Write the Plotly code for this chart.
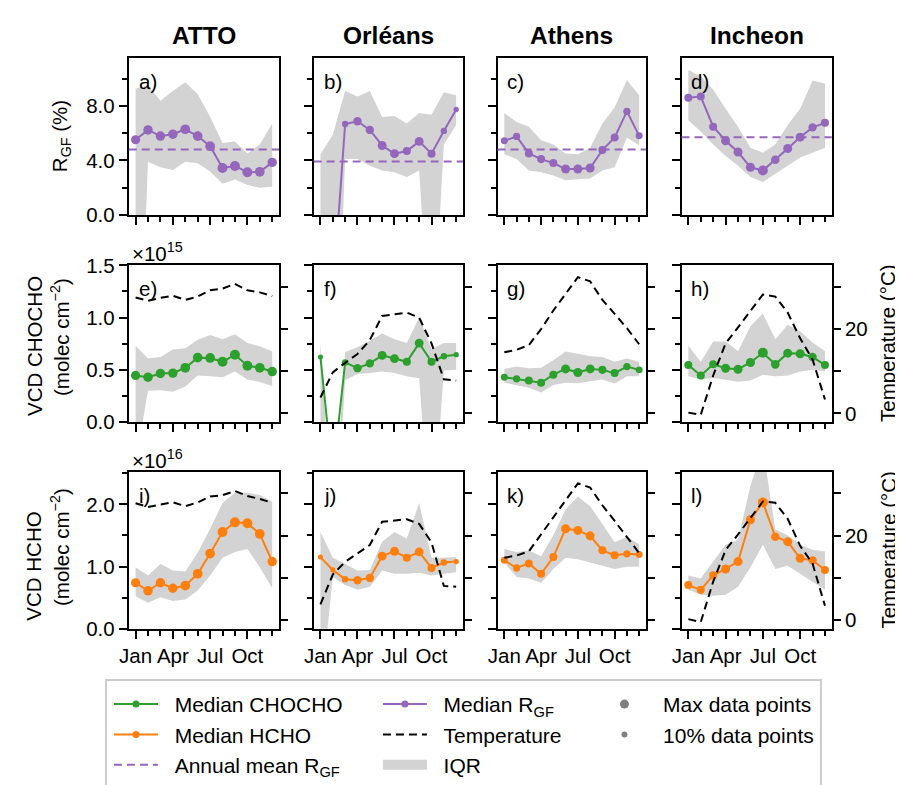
import plotly.graph_objects as go

# ---------------- data ----------------
months = [1, 2, 3, 4, 5, 6, 7, 8, 9, 10, 11, 12]
month_ticks = [1, 4, 7, 10]
month_ticktext = ["Jan", "Apr", "Jul", "Oct"]
stations = ["ATTO", "Orléans", "Athens", "Incheon"]
panel_letters = ["a)", "b)", "c)", "d)", "e)", "f)", "g)", "h)", "i)", "j)", "k)", "l)"]

# R_GF (%) : median, IQR lower (q1), IQR upper (q3), annual mean
rgf_med_atto = [5.52, 6.24, 5.79, 5.93, 6.29, 5.79, 5.05, 3.45, 3.60, 3.14, 3.17, 3.86]
rgf_q1_atto = [-20.0, 3.9, 3.5, 3.3, 3.9, 3.8, 3.2, 2.3, 2.6, 2.2, 2.0, 2.1]
rgf_q3_atto = [9.26, 9.5, 8.38, 9.1, 9.74, 8.86, 7.2, 5.29, 5.4, 4.52, 5.17, 6.71]
rgf_mean_atto = 4.81

rgf_med_orleans = [-10.0, -6.0, 6.67, 6.88, 6.24, 5.10, 4.50, 4.69, 5.40, 4.50, 6.17, 7.74]
rgf_q1_orleans = [-20.0, -20.0, 4.1, 4.1, 3.62, 3.26, 3.14, 2.79, 3.26, -11.0, 5.17, 6.6]
rgf_q3_orleans = [4.45, 5.88, 9.1, 8.7, 9.1, 7.19, 7.26, 6.71, 7.48, 7.36, 9.0, 8.79]
rgf_mean_orleans = 3.93

rgf_med_athens = [5.45, 5.76, 4.52, 4.10, 3.81, 3.38, 3.38, 3.45, 4.76, 5.69, 7.60, 5.81]
rgf_q1_athens = [4.45, 4.1, 3.26, 3.14, 2.9, 2.55, 2.62, 2.67, 3.26, 3.5, 5.69, 5.12]
rgf_q3_athens = [7.48, 6.83, 6.48, 5.48, 5.17, 4.52, 4.45, 4.93, 6.71, 7.9, 9.88, 8.79]
rgf_mean_athens = 4.81

rgf_med_incheon = [8.60, 8.69, 6.48, 5.45, 4.62, 3.50, 3.26, 4.05, 4.88, 5.71, 6.43, 6.76]
rgf_q1_incheon = [6.95, 6.12, 5.17, 4.33, 3.62, 2.79, 2.43, 3.02, 3.62, 4.21, 4.57, 4.93]
rgf_q3_incheon = [10.64, 10.17, 9.21, 7.79, 6.48, 4.93, 4.57, 5.17, 6.6, 7.79, 9.86, 9.64]
rgf_mean_incheon = 5.71

# VCD CHOCHO (x 1e15 molec cm-2)
chocho_med_atto = [0.447, 0.43, 0.466, 0.469, 0.52, 0.617, 0.614, 0.577, 0.645, 0.54, 0.52, 0.484]
chocho_q1_atto = [-0.4, 0.3, 0.305, 0.29, 0.34, 0.447, 0.44, 0.43, 0.484, 0.407, 0.383, 0.345]
chocho_q3_atto = [0.73, 0.608, 0.623, 0.694, 0.707, 0.787, 0.833, 0.793, 0.84, 0.756, 0.725, 0.676]

chocho_med_orleans = [0.623, -0.52, 0.571, 0.516, 0.562, 0.639, 0.608, 0.577, 0.756, 0.577, 0.63, 0.645]
chocho_q1_orleans = [-0.8, -1.6, 0.4, 0.46, 0.47, 0.484, 0.47, 0.44, 0.42, -1.2, 0.494, 0.5]
chocho_q3_orleans = [0.771, -1.1, 0.67, 0.716, 0.778, 0.849, 0.793, 0.756, 1.003, 0.7, 0.756, 0.756]

chocho_med_athens = [0.429, 0.414, 0.398, 0.377, 0.454, 0.509, 0.475, 0.509, 0.5, 0.469, 0.531, 0.5]
chocho_q1_athens = [0.377, 0.352, 0.33, 0.284, 0.355, 0.377, 0.372, 0.392, 0.407, 0.37, 0.438, 0.438]
chocho_q3_athens = [0.509, 0.531, 0.516, 0.52, 0.593, 0.676, 0.654, 0.63, 0.623, 0.577, 0.608, 0.577]

chocho_med_incheon = [0.546, 0.447, 0.553, 0.516, 0.506, 0.571, 0.664, 0.553, 0.66, 0.654, 0.623, 0.546]
chocho_q1_incheon = [0.438, 0.407, 0.423, 0.407, 0.386, 0.398, 0.454, 0.438, 0.447, 0.484, 0.5, 0.484]
chocho_q3_incheon = [0.731, 0.577, 0.771, 0.771, 0.679, 0.917, 1.04, 0.793, 0.932, 0.87, 0.762, 0.679]

# VCD HCHO (x 1e16 molec cm-2)
hcho_med_atto = [0.739, 0.61, 0.739, 0.651, 0.693, 0.884, 1.209, 1.555, 1.71, 1.695, 1.524, 1.08]
hcho_q1_atto = [0.522, 0.419, 0.507, 0.445, 0.47, 0.615, 0.858, 1.142, 1.235, 1.282, 0.987, 0.651]
hcho_q3_atto = [0.987, 0.858, 1.039, 0.935, 0.92, 1.22, 1.608, 2.02, 2.186, 2.186, 2.15, 2.047]

hcho_med_orleans = [1.152, 0.946, 0.795, 0.78, 0.817, 1.167, 1.245, 1.142, 1.235, 0.977, 1.065, 1.08]
hcho_q1_orleans = [-1.1, 0.832, 0.702, 0.625, 0.677, 0.935, 0.884, 0.884, 0.9, 0.858, 0.884, 0.91]
hcho_q3_orleans = [1.555, 1.142, 1.039, 0.935, 0.946, 1.4, 1.555, 1.452, 2.02, 1.142, 1.142, 1.152]

hcho_med_athens = [1.1, 0.977, 1.05, 0.884, 1.152, 1.608, 1.581, 1.493, 1.26, 1.183, 1.204, 1.194]
hcho_q1_athens = [1.065, 0.832, 0.806, 0.739, 0.961, 1.142, 1.116, 1.065, 1.013, 0.961, 0.997, 0.997]
hcho_q3_athens = [1.282, 1.235, 1.256, 1.167, 1.504, 1.918, 2.124, 1.969, 1.685, 1.39, 1.478, 1.36]

hcho_med_incheon = [0.702, 0.625, 0.858, 0.961, 1.08, 1.752, 2.031, 1.478, 1.4, 1.132, 1.1, 0.946]
hcho_q1_incheon = [0.625, 0.547, 0.532, 0.547, 0.677, 0.987, 1.349, 0.961, 1.013, 0.884, 0.755, 0.625]
hcho_q3_incheon = [0.858, 0.806, 1.08, 1.349, 1.426, 2.3, 2.9, 1.6, 1.5, 1.35, 1.27, 1.24]

# Temperature (deg C), as plotted in the CHOCHO row and the HCHO row
temp_chocho_atto = [27.5, 26.7, 27.4, 27.9, 26.9, 27.7, 29.2, 29.6, 30.7, 29.2, 28.7, 27.8]
temp_chocho_orleans = [3.8, 9.75, 12.0, 14.1, 17.4, 23.1, 23.5, 23.9, 22.7, 16.6, 8.1, 7.8]
temp_chocho_athens = [14.5, 15.1, 16.2, 20.0, 24.4, 28.4, 32.3, 31.3, 26.9, 23.6, 20.2, 16.4]
temp_chocho_incheon = [0.2, -0.3, 9.0, 16.6, 20.4, 24.3, 28.2, 27.7, 23.9, 17.8, 12.8, 3.3]

temp_hcho_atto = [27.7, 26.8, 27.4, 27.9, 27.0, 27.9, 29.3, 29.6, 30.6, 29.4, 28.7, 27.8]
temp_hcho_orleans = [3.75, 10.8, 13.8, 15.9, 17.8, 23.3, 23.6, 23.9, 22.8, 18.4, 8.1, 7.9]
temp_hcho_athens = [14.8, 15.3, 16.3, 20.3, 24.3, 28.5, 32.4, 31.4, 27.2, 23.5, 19.7, 15.9]
temp_hcho_incheon = [0.23, -0.46, 9.1, 16.6, 20.3, 24.1, 28.1, 27.8, 24.0, 17.6, 13.4, 3.4]

# number of data points per month, as fraction of the maximum
npts_atto = [0.85, 0.9, 0.9, 0.9, 0.95, 0.95, 0.95, 1.0, 1.0, 1.0, 0.95, 0.9]
npts_orleans = [0.1, 0.1, 0.35, 0.7, 0.7, 0.8, 0.8, 0.65, 0.8, 0.65, 0.35, 0.15]
npts_athens = [0.45, 0.5, 0.64, 0.64, 0.64, 0.82, 0.82, 0.82, 0.64, 0.64, 0.5, 0.45]
npts_incheon = [0.64, 0.64, 0.64, 0.82, 0.82, 0.82, 1.0, 0.75, 0.82, 0.82, 0.7, 0.64]

# ---------------- assemble ----------------
rgf_med = [rgf_med_atto, rgf_med_orleans, rgf_med_athens, rgf_med_incheon]
rgf_q1 = [rgf_q1_atto, rgf_q1_orleans, rgf_q1_athens, rgf_q1_incheon]
rgf_q3 = [rgf_q3_atto, rgf_q3_orleans, rgf_q3_athens, rgf_q3_incheon]
rgf_mean = [rgf_mean_atto, rgf_mean_orleans, rgf_mean_athens, rgf_mean_incheon]
ch_med = [chocho_med_atto, chocho_med_orleans, chocho_med_athens, chocho_med_incheon]
ch_q1 = [chocho_q1_atto, chocho_q1_orleans, chocho_q1_athens, chocho_q1_incheon]
ch_q3 = [chocho_q3_atto, chocho_q3_orleans, chocho_q3_athens, chocho_q3_incheon]
hc_med = [hcho_med_atto, hcho_med_orleans, hcho_med_athens, hcho_med_incheon]
hc_q1 = [hcho_q1_atto, hcho_q1_orleans, hcho_q1_athens, hcho_q1_incheon]
hc_q3 = [hcho_q3_atto, hcho_q3_orleans, hcho_q3_athens, hcho_q3_incheon]
t_ch = [temp_chocho_atto, temp_chocho_orleans, temp_chocho_athens, temp_chocho_incheon]
t_hc = [temp_hcho_atto, temp_hcho_orleans, temp_hcho_athens, temp_hcho_incheon]
npts = [npts_atto, npts_orleans, npts_athens, npts_incheon]

PURPLE = "#9467bd"
GREEN = "#2ca02c"
ORANGE = "#ff7f0e"
IQR_GREY = "#d3d3d3"
FONT = "Liberation Sans, Arial, Helvetica, sans-serif"
TICKFONT = 20.5
TEXTFONT = 20.5

# the page body has an 8 px margin: the figure is placed at (8, 8) in the window
OFF = 8
W, H = 903 - OFF, 785 - OFF
col_px = [(120, 272), (307, 458), (493, 643), (679, 831)]
row_px = [(47.5, 209.5), (261.5, 423.5), (475, 637)]
TEMP_RANGE = [-2.05, 35.1]
row_yaxis = [
    dict(range=[0, 11.5], tickvals=[0, 4, 8], ticktext=["0.0", "4.0", "8.0"], minor=[2, 6, 10]),
    dict(range=[0, 1.5], tickvals=[0, 0.5, 1.0, 1.5], ticktext=["0.0", "0.5", "1.0", "1.5"], minor=[0.25, 0.75, 1.25]),
    dict(range=[0, 2.52], tickvals=[0, 1, 2], ticktext=["0.0", "1.0", "2.0"], minor=[0.5, 1.5, 2.5]),
]


def px2x(px):
    return (px - OFF) / W


def px2y(py):
    return 1 - (py - OFF) / H


def msize(frac_list):
    return [4.5 + 5.5 * f for f in frac_list]


fig = go.Figure()
layout = dict(
    width=W, height=H, margin=dict(l=0, r=0, t=0, b=0),
    paper_bgcolor="white", plot_bgcolor="white",
    font=dict(family=FONT, size=TICKFONT, color="black"),
    showlegend=True,
)
shapes = []
annotations = []

temp_axis_counter = 13
for r in range(3):
    for c in range(4):
        k = r * 4 + c + 1
        xs = "" if k == 1 else str(k)
        x0, x1 = col_px[c]
        y0, y1 = row_px[r]
        layout["xaxis" + xs] = dict(
            domain=[px2x(x0), px2x(x1)], anchor="y" + xs, range=[0.45, 12.55],
            tickmode="array", tickvals=month_ticks, ticktext=month_ticktext,
            showticklabels=(r == 2), ticks="outside", ticklen=8, tickwidth=1.5, tickcolor="black",
            minor=dict(tickmode="array", tickvals=[m for m in months if m not in month_ticks],
                       ticks="outside", ticklen=5, tickwidth=1.5, tickcolor="black"),
            showline=True, linewidth=2, linecolor="black", mirror=True,
            showgrid=False, zeroline=False, tickfont=dict(size=TICKFONT),
        )
        ya = row_yaxis[r]
        layout["yaxis" + xs] = dict(
            domain=[px2y(y1), px2y(y0)], anchor="x" + xs, range=ya["range"],
            tickmode="array", tickvals=ya["tickvals"], ticktext=ya["ticktext"],
            showticklabels=(c == 0), ticks="outside", ticklen=8, tickwidth=1.5, tickcolor="black",
            minor=dict(tickmode="array", tickvals=ya["minor"], ticks="outside", ticklen=5,
                       tickwidth=1.5, tickcolor="black"),
            showline=True, linewidth=2, linecolor="black", mirror=True,
            showgrid=False, zeroline=False, tickfont=dict(size=TICKFONT),
        )
        xa_name = "x" + xs
        ya_name = "y" + xs

        if r == 0:
            lo, hi, med, col = rgf_q1[c], rgf_q3[c], rgf_med[c], PURPLE
        elif r == 1:
            lo, hi, med, col = ch_q1[c], ch_q3[c], ch_med[c], GREEN
        else:
            lo, hi, med, col = hc_q1[c], hc_q3[c], hc_med[c], ORANGE

        # IQR band
        fig.add_trace(go.Scatter(x=months, y=lo, mode="lines", line=dict(width=0),
                                 xaxis=xa_name, yaxis=ya_name, showlegend=False, hoverinfo="skip"))
        fig.add_trace(go.Scatter(x=months, y=hi, mode="lines", line=dict(width=0), fill="tonexty",
                                 fillcolor=IQR_GREY, xaxis=xa_name, yaxis=ya_name,
                                 showlegend=False, hoverinfo="skip"))
        # median
        fig.add_trace(go.Scatter(x=months, y=med, mode="lines+markers",
                                 line=dict(color=col, width=2),
                                 marker=dict(color=col, size=msize(npts[c]), opacity=1,
                                             line=dict(width=0)),
                                 xaxis=xa_name, yaxis=ya_name, showlegend=False))
        if r == 0:
            shapes.append(dict(type="line", xref=xa_name + " domain", x0=0, x1=1,
                               yref=ya_name, y0=rgf_mean[c], y1=rgf_mean[c],
                               line=dict(color=PURPLE, width=2, dash="8px,5px")))
        else:
            tn = "yaxis" + str(temp_axis_counter)
            layout[tn] = dict(
                overlaying=ya_name, anchor=xa_name, side="right", range=TEMP_RANGE,
                tickmode="array", tickvals=[0, 20], ticktext=["0", "20"],
                showticklabels=(c == 3), ticks="outside", ticklen=8, tickwidth=1.5, tickcolor="black",
                minor=dict(tickmode="array", tickvals=[10, 30], ticks="outside", ticklen=8,
                           tickwidth=1.5, tickcolor="black"),
                showline=False, showgrid=False, zeroline=False, tickfont=dict(size=TICKFONT),
            )
            temps = t_ch[c] if r == 1 else t_hc[c]
            fig.add_trace(go.Scatter(x=months, y=temps, mode="lines",
                                     line=dict(color="black", width=2, dash="8px,5px"),
                                     xaxis=xa_name, yaxis="y" + str(temp_axis_counter),
                                     showlegend=False))
            temp_axis_counter += 1

        # panel letter
        annotations.append(dict(text=panel_letters[k - 1], xref="paper", yref="paper",
                                x=px2x(x0 + 8), y=px2y(y0 + 10), xanchor="left", yanchor="top",
                                showarrow=False, font=dict(size=TEXTFONT)))

# column titles
for c in range(4):
    x0, x1 = col_px[c]
    annotations.append(dict(text="<b>%s</b>" % stations[c], xref="paper", yref="paper",
                            x=px2x((x0 + x1) / 2), y=px2y(24), xanchor="center", yanchor="middle",
                            showarrow=False, font=dict(size=24.5)))


# axis titles
def vtext(txt, xc, yc, size=TEXTFONT):
    annotations.append(dict(text=txt, xref="paper", yref="paper", x=px2x(xc), y=px2y(yc),
                            xanchor="center", yanchor="middle", textangle=-90,
                            showarrow=False, font=dict(size=size)))


vtext("R<sub>GF</sub> (%)", 51, 128.5)
vtext("VCD CHOCHO", 24, 345)
vtext("(molec cm<sup>−2</sup>)", 51, 336)
vtext("VCD HCHO", 24, 572)
vtext("(molec cm<sup>−2</sup>)", 51, 553)
vtext("Temperature (°C)", 888, 342.5)
vtext("Temperature (°C)", 888, 556)

annotations.append(dict(text="×10<sup>15</sup>", xref="paper", yref="paper", x=px2x(121),
                        y=px2y(248), xanchor="left", yanchor="middle", showarrow=False,
                        font=dict(size=TEXTFONT)))
annotations.append(dict(text="×10<sup>16</sup>", xref="paper", yref="paper", x=px2x(121),
                        y=px2y(462), xanchor="left", yanchor="middle", showarrow=False,
                        font=dict(size=TEXTFONT)))


# ---------------- legend ----------------
PAD = "&nbsp;&nbsp;"


def leg(name, legend, group, **kw):
    fig.add_trace(go.Scatter(x=[None], y=[None], name=PAD + name, legend=legend, legendgroup=group,
                             xaxis="x", yaxis="y", hoverinfo="skip", **kw))


leg("Median CHOCHO", "legend", "g1", mode="lines+markers", line=dict(color=GREEN, width=2),
    marker=dict(color=GREEN, size=7, line=dict(width=0)))
leg("Median HCHO", "legend", "g2", mode="lines+markers", line=dict(color=ORANGE, width=2),
    marker=dict(color=ORANGE, size=7, line=dict(width=0)))
leg("Annual mean R<sub>GF</sub>", "legend", "g3", mode="lines",
    line=dict(color=PURPLE, width=2, dash="8px,5px"))
leg("Median R<sub>GF</sub>", "legend2", "g4", mode="lines+markers", line=dict(color=PURPLE, width=2),
    marker=dict(color=PURPLE, size=7, line=dict(width=0)))
leg("Temperature", "legend2", "g5", mode="lines", line=dict(color="black", width=2, dash="8px,5px"))
leg("IQR", "legend2", "g6", mode="lines", line=dict(color=IQR_GREY, width=14))
leg("Max data points", "legend3", "g7", mode="markers",
    marker=dict(color="#808080", size=9, line=dict(width=0)))
leg("10% data points", "legend3", "g8", mode="markers",
    marker=dict(color="#808080", size=6, line=dict(width=0)))

legend_common = dict(orientation="v", xanchor="left", yanchor="top", bgcolor="rgba(0,0,0,0)",
                     borderwidth=0, font=dict(size=21, family=FONT), itemwidth=44,
                     tracegroupgap=0, traceorder="grouped")
layout["legend"] = dict(legend_common, x=px2x(100), y=px2y(694))
layout["legend2"] = dict(legend_common, x=px2x(372), y=px2y(694))
layout["legend3"] = dict(legend_common, x=px2x(594), y=px2y(694))

shapes.append(dict(type="rect", xref="paper", yref="paper", x0=px2x(97), x1=px2x(820),
                   y0=px2y(800), y1=px2y(690), line=dict(color="#cccccc", width=2),
                   fillcolor="rgba(0,0,0,0)", layer="below"))

layout["shapes"] = shapes
layout["annotations"] = annotations
fig.update_layout(**layout)
fig.write_html("out.html")
